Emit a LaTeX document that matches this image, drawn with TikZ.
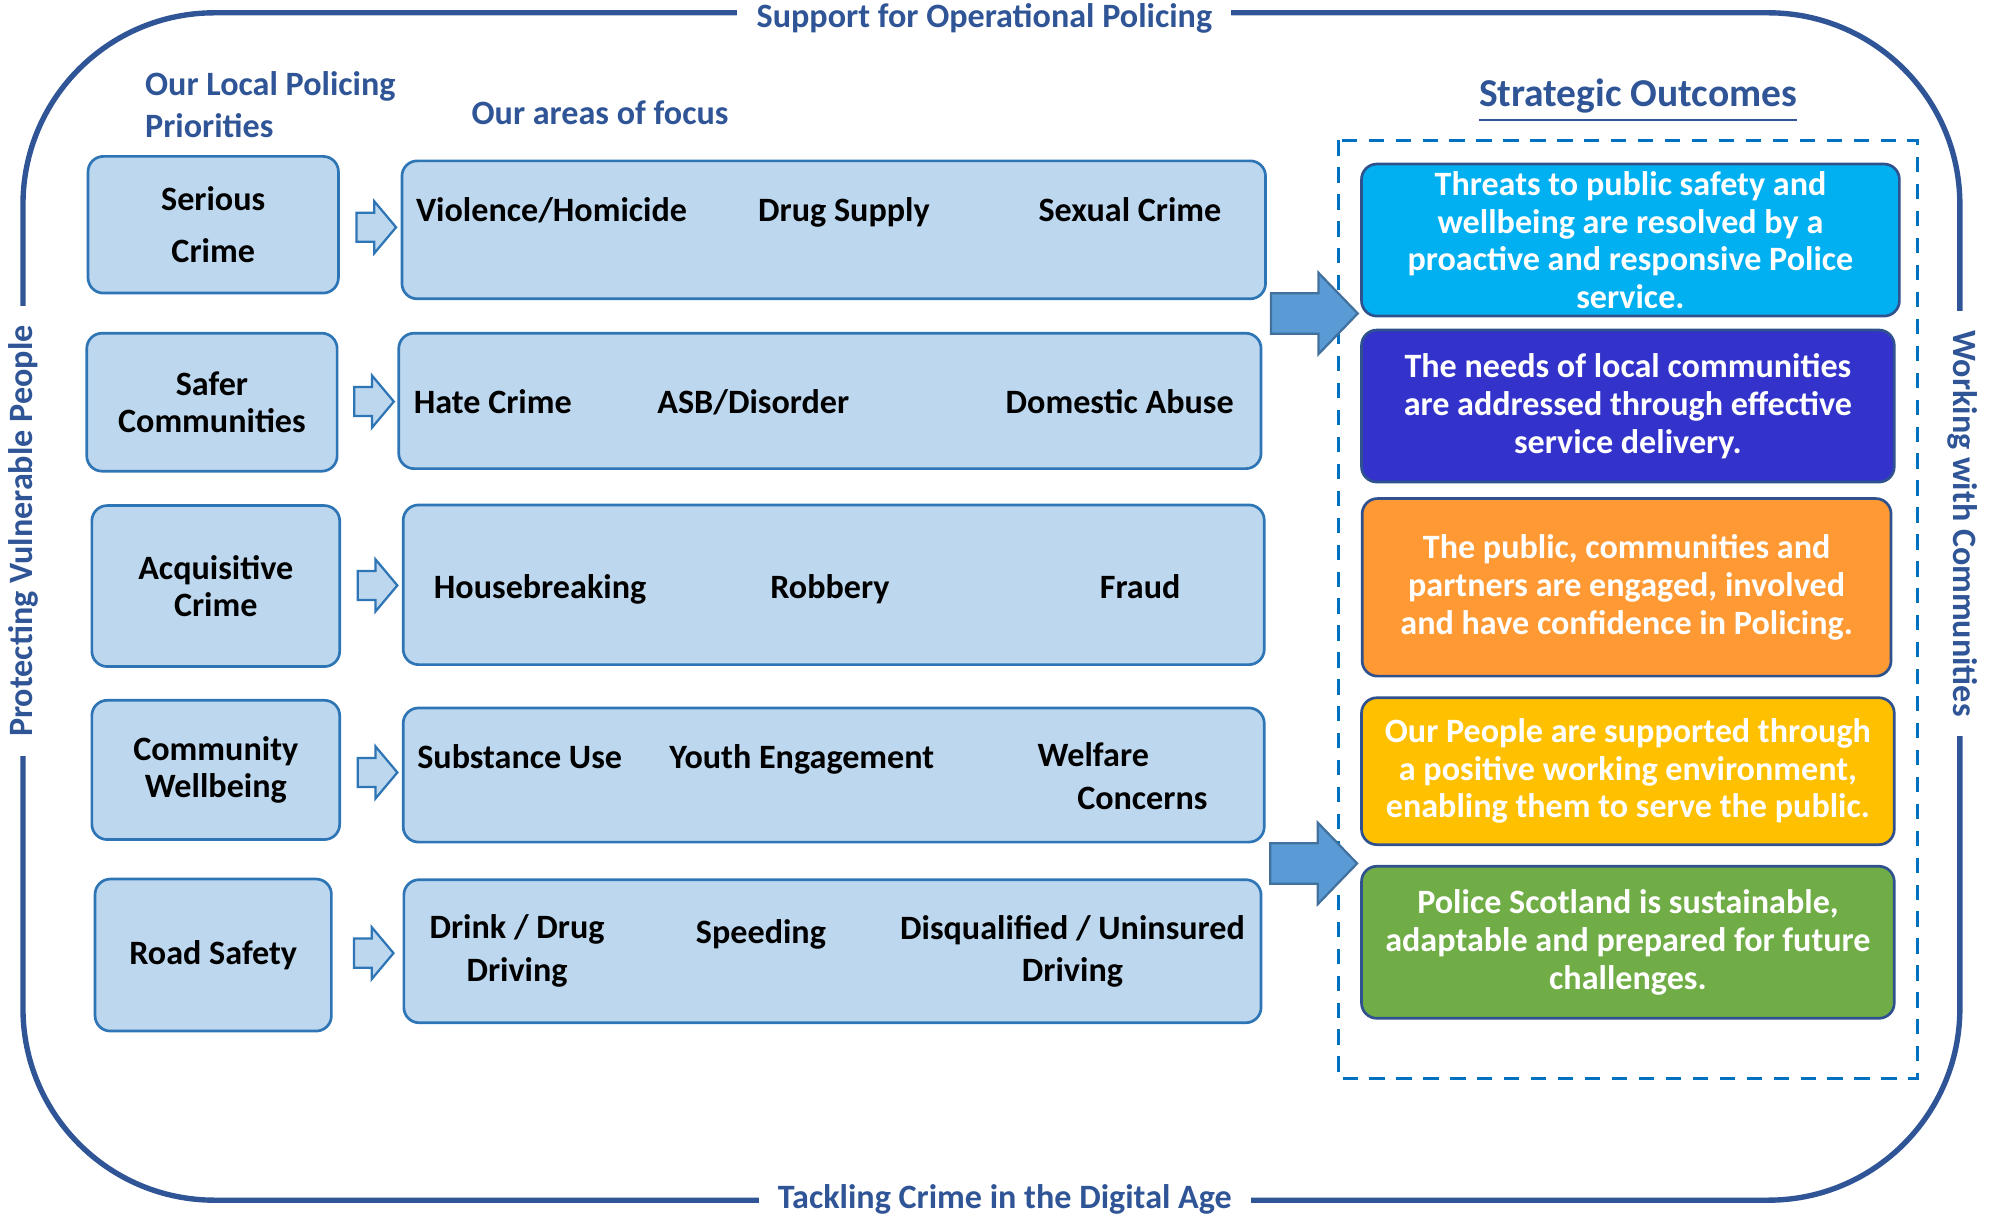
\documentclass[tikz,border=0pt]{standalone}
\usepackage{fontspec}
\setmainfont{Carlito}
\usetikzlibrary{calc,shapes.arrows}

\definecolor{frameblue}{RGB}{47,85,151}
\definecolor{boxfill}{RGB}{189,215,238}
\definecolor{boxline}{RGB}{46,117,182}
\definecolor{arrowfill}{RGB}{91,155,213}
\definecolor{arrowline}{RGB}{65,113,156}
\definecolor{dashblue}{RGB}{0,112,192}
\definecolor{outline}{RGB}{47,82,143}
\definecolor{outcyan}{RGB}{0,176,240}
\definecolor{outindigo}{RGB}{51,51,204}
\definecolor{outorange}{RGB}{255,153,51}
\definecolor{outgold}{RGB}{255,192,0}
\definecolor{outgreen}{RGB}{112,173,71}

\begin{document}
\begin{tikzpicture}[x=0.01cm,y=-0.01cm,
    txt/.style={font=\bfseries\fontsize{7.6}{8.4}\selectfont},
    wide/.style={font=\bfseries\fontsize{7.6}{9.5}\selectfont},
    heading/.style={txt,text=frameblue},
    framelabel/.style={heading,fill=white,inner xsep=4.3pt,inner ysep=1pt},
    prio/.style={txt,draw=boxline,fill=boxfill,line width=.6pt,rounded corners=.12cm,align=center,inner sep=0pt},
    items/.style={txt,inner sep=0pt,align=center},
    item/.style={items,text height=1.6ex,text depth=.45ex},
    outcome/.style={txt,text=white,draw=outline,line width=.6pt,rounded corners=.12cm,align=center,inner sep=0pt,minimum height=1.19cm},
    hollowarrow/.style={single arrow,draw=boxline,fill=boxfill,line width=.5pt,inner xsep=0pt,inner ysep=.105cm,
      minimum height=.31cm,single arrow head extend=.09cm,single arrow tip angle=100},
    bigarrow/.style={single arrow,draw=arrowline,fill=arrowfill,line width=.5pt,inner xsep=0pt,inner ysep=.15cm,
      minimum height=.68cm,single arrow head extend=.16cm,single arrow tip angle=92}]

  \useasboundingbox (0,0) rectangle (1568,953);

  \draw [frameblue,line width=1.2pt,rounded corners=1.5cm] (18,10) rectangle (1535,940);

  \node (top)    at (771,14)  [framelabel]           {Support for Operational Policing};
  \node (bottom) at (787,939) [framelabel]           {Tackling Crime in the Digital Age};
  \node (left)   at (18,416)  [framelabel,rotate=90] {Protecting Vulnerable People};
  \node (right)  at (1537,410)[framelabel,rotate=-90]{Working with Communities};

  \node (lpp) at (113,82)  [heading,wide,text=frameblue,anchor=west,align=left,inner sep=0pt] {Our Local Policing\\Priorities};
  \node (aof) at (470,88)  [heading] {Our areas of focus};
  \node (so)  at (1283,79) [heading,font=\bfseries\fontsize{8.8}{10}\selectfont] {\underline{Strategic Outcomes}};

  \node (s1) at (167,176) [prio,minimum width=1.96cm,minimum height=1.07cm] {Serious\\[3.3pt]Crime};
  \node (s2) at (166,315) [prio,minimum width=1.96cm,minimum height=1.08cm] {Safer\\Communities};
  \node (s3) at (169,459) [prio,minimum width=1.94cm,minimum height=1.26cm] {Acquisitive\\Crime};
  \node (s4) at (169,603) [prio,minimum width=1.94cm,minimum height=1.09cm] {Community\\Wellbeing};
  \node (s5) at (167,748) [prio,minimum width=1.85cm,minimum height=1.19cm] {Road Safety};

  \node (f1) at (653,180) [prio,minimum width=6.76cm,minimum height=1.08cm] {};
  \node (f2) at (650,314) [prio,minimum width=6.75cm,minimum height=1.06cm] {};
  \node (f3) at (653,458) [prio,minimum width=6.74cm,minimum height=1.25cm] {};
  \node (f4) at (653,607) [prio,minimum width=6.74cm,minimum height=1.05cm] {};
  \node (f5) at (652,745) [prio,minimum width=6.71cm,minimum height=1.12cm] {};

  \node (f1a) at (432,164) [item] {Violence/Homicide};
  \node (f1b) at (661,164) [item] {Drug Supply};
  \node (f1c) at (885,164) [item] {Sexual Crime};
  \node (f2a) at (386,314) [item] {Hate Crime};
  \node (f2b) at (590,314) [item] {ASB/Disorder};
  \node (f2c) at (877,314) [item] {Domestic Abuse};
  \node (f3a) at (423,459) [item] {Housebreaking};
  \node (f3b) at (650,459) [item] {Robbery};
  \node (f3c) at (893,459) [item] {Fraud};
  \node (f4a) at (407,592) [item] {Substance Use};
  \node (f4b) at (628,592) [item] {Youth Engagement};
  \node (f4c) at (812,608) [items,wide,anchor=west,align=left] {Welfare\\\hspace*{.31cm}Concerns};
  \node (f5a) at (405,745) [items,wide] {Drink / Drug\\Driving};
  \node (f5b) at (596,729) [item] {Speeding};
  \node (f5c) at (840,745) [items,wide] {Disqualified / Uninsured\\Driving};

  \foreach \i in {1,...,5}
    \node (p\i) at ($(s\i.east)!.5!(f\i.west)$) [hollowarrow] {};

  \draw [dashblue,line width=.7pt,dash pattern=on 3.4pt off 2.6pt] (1048,110) rectangle (1502,845);

  \node (o1) at (1277,188) [outcome,fill=outcyan,minimum width=4.21cm]
    {Threats to public safety and\\wellbeing are resolved by a\\proactive and responsive Police\\service.};
  \node (o2) at (1275,318) [outcome,fill=outindigo,minimum width=4.17cm]
    {The needs of local communities\\are addressed through effective\\service delivery.};
  \node (o3) at (1274,460) [outcome,fill=outorange,minimum width=4.14cm,minimum height=1.39cm]
    {The public, communities and\\partners are engaged, involved\\and have confidence in Policing.};
  \node (o4) at (1275,604) [outcome,fill=outgold,minimum width=4.17cm,minimum height=1.15cm]
    {Our People are supported through\\a positive working environment,\\enabling them to serve the public.};
  \node (o5) at (1275,738) [outcome,fill=outgreen,minimum width=4.17cm]
    {Police Scotland is sustainable,\\adaptable and prepared for future\\challenges.};

  \node (b1) at ($(f1.south east)!.5!(f2.north east)$) [bigarrow,anchor=tail,xshift=.04cm,yshift=.02cm] {};
  \node (b2) at ($(f4.south east)!.5!(f5.north east)$) [bigarrow,anchor=tail,xshift=.04cm,yshift=-.02cm] {};
\end{tikzpicture}
\end{document}
